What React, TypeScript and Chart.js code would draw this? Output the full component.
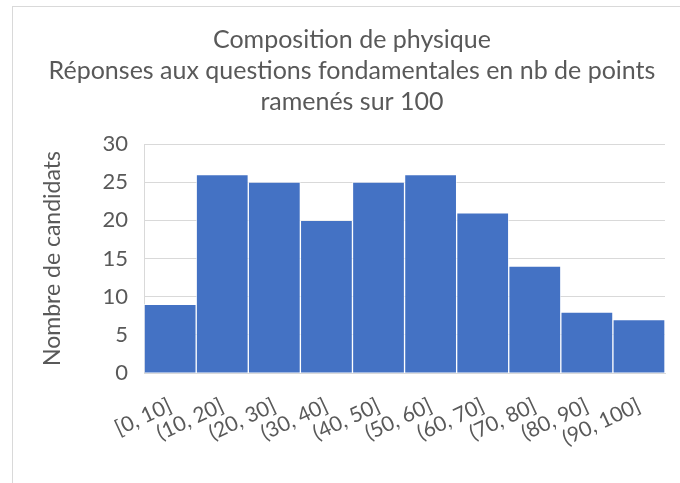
import React, { useEffect, useRef } from "react";
import { Chart, registerables } from "chart.js";

Chart.register(...registerables);

const categories = ["[0, 10]", "(10, 20]", "(20, 30]", "(30, 40]", "(40, 50]", "(50, 60]", "(60, 70]", "(70, 80]", "(80, 90]", "(90, 100]"];
const counts = [9, 26, 25, 20, 25, 26, 21, 14, 8, 7];
const titleLines = ["Composition de physique", "Réponses aux questions fondamentales en nb de points", "ramenés sur 100"];
const yAxisTitle = "Nombre de candidats";

const FONT = "Lato, 'Open Sans', sans-serif";
const GREY = "#595959";

export default function App() {
  const ref = useRef<HTMLCanvasElement | null>(null);
  useEffect(() => {
    if (!ref.current) return;
    const chart = new Chart(ref.current, {
      type: "bar",
      data: {
        labels: categories,
        datasets: [
          {
            data: counts,
            backgroundColor: "#4472C4",
            borderColor: "rgba(255,255,255,0.6)",
            borderWidth: 1,
            barPercentage: 1,
            categoryPercentage: 1,
          },
        ],
      },
      options: {
        responsive: false,
        animation: false,
        devicePixelRatio: 1,
        layout: { padding: { left: 26, right: 28, top: 0, bottom: 12 } },
        plugins: {
          legend: { display: false },
          tooltip: { enabled: false },
          title: {
            display: true,
            text: titleLines,
            color: GREY,
            font: { family: FONT, size: 25, weight: "normal", lineHeight: 1.24 },
            padding: { top: 17, bottom: 27 },
          },
        },
        scales: {
          x: {
            grid: { display: false, drawTicks: false },
            border: { display: true, color: "#d9d9d9" },
            ticks: {
              color: GREY,
              font: { family: FONT, size: 21 },
              maxRotation: 25,
              minRotation: 25,
              autoSkip: false,
              padding: 20,
            },
          },
          y: {
            min: 0,
            max: 30,
            grid: { color: "#d9d9d9", drawTicks: false },
            border: { display: true, color: "#d9d9d9" },
            ticks: {
              stepSize: 5,
              color: GREY,
              font: { family: FONT, size: 22 },
              padding: 16,
            },
            title: {
              display: true,
              text: yAxisTitle,
              color: GREY,
              font: { family: FONT, size: 23 },
              padding: { top: 0, bottom: 20 },
            },
          },
        },
      },
    });
    return () => chart.destroy();
  }, []);

  return (
    <div style={{ position: "fixed", left: 0, top: 0, width: 680, height: 483, overflow: "hidden", background: "#fff" }}>
      <div style={{ position: "absolute", left: 12, top: 6, width: 700, height: 500, borderLeft: "1px solid #d9d9d9", borderTop: "1px solid #d9d9d9" }} />
      <canvas ref={ref} width={680} height={476} style={{ position: "absolute", left: 13, top: 7, width: 680, height: 476 }} />
    </div>
  );
}
